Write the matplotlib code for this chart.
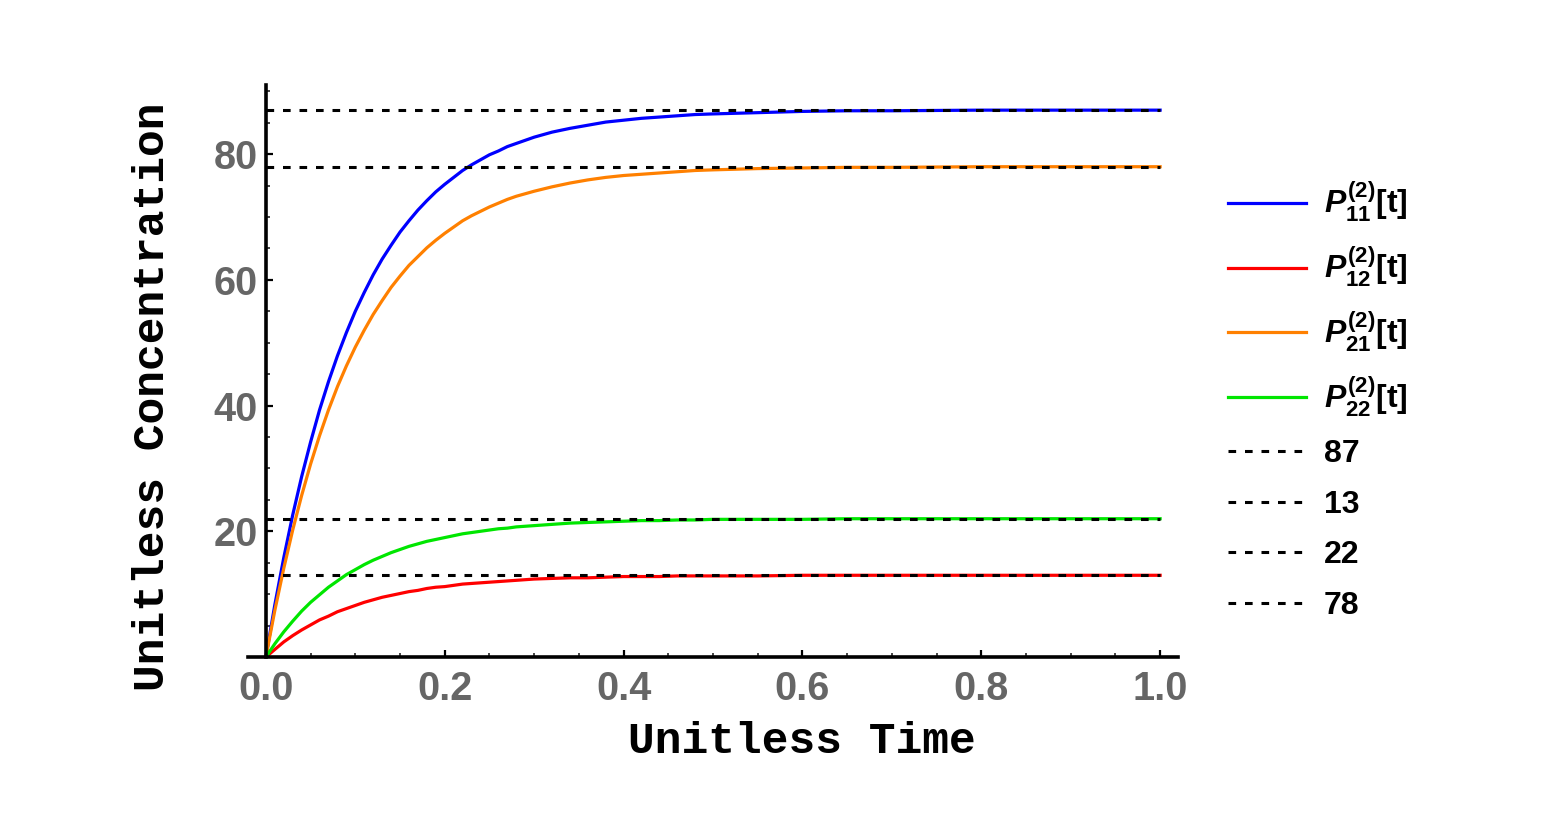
import matplotlib
matplotlib.use("Agg")
import matplotlib.pyplot as plt
from matplotlib.lines import Line2D
from matplotlib.ticker import MultipleLocator

plt.rcParams['mathtext.fontset'] = 'custom'
plt.rcParams['mathtext.rm'] = 'Liberation Sans:bold'
plt.rcParams['mathtext.it'] = 'Liberation Sans:italic:bold'
plt.rcParams['mathtext.bf'] = 'Liberation Sans:bold'

# ---- data ----
t = [0.00, 0.01, 0.02, 0.03, 0.04, 0.05, 0.06, 0.07, 0.08, 0.09, 0.10,
     0.11, 0.12, 0.13, 0.14, 0.15, 0.16, 0.17, 0.18, 0.19, 0.20,
     0.21, 0.22, 0.23, 0.24, 0.25, 0.26, 0.27, 0.28, 0.29, 0.30,
     0.32, 0.34, 0.36, 0.38, 0.40, 0.42, 0.44, 0.46, 0.48, 0.50,
     0.55, 0.60, 0.65, 0.70, 0.80, 0.90, 1.00]
p11 = [0.0, 8.3, 15.8, 22.6, 28.7, 34.2, 39.3, 43.8, 47.9, 51.6, 55.0,
       58.0, 60.8, 63.3, 65.5, 67.6, 69.4, 71.1, 72.6, 74.0, 75.2,
       76.3, 77.4, 78.3, 79.1, 79.9, 80.5, 81.2, 81.7, 82.2, 82.7,
       83.5, 84.1, 84.6, 85.1, 85.4, 85.7, 85.9, 86.1, 86.3, 86.4,
       86.6, 86.8, 86.9, 86.9, 87.0, 87.0, 87.0]
p12 = [0.0, 1.2, 2.4, 3.4, 4.3, 5.1, 5.9, 6.5, 7.2, 7.7, 8.2,
       8.7, 9.1, 9.5, 9.8, 10.1, 10.4, 10.6, 10.9, 11.1, 11.2,
       11.4, 11.6, 11.7, 11.8, 11.9, 12.0, 12.1, 12.2, 12.3, 12.4,
       12.5, 12.6, 12.6, 12.7, 12.8, 12.8, 12.8, 12.9, 12.9, 12.9,
       12.9, 13.0, 13.0, 13.0, 13.0, 13.0, 13.0]
p21 = [0.0, 7.4, 14.1, 20.2, 25.7, 30.7, 35.2, 39.3, 43.0, 46.3, 49.3,
       52.0, 54.5, 56.7, 58.8, 60.6, 62.3, 63.7, 65.1, 66.3, 67.4,
       68.4, 69.4, 70.2, 70.9, 71.6, 72.2, 72.8, 73.3, 73.7, 74.1,
       74.8, 75.4, 75.9, 76.3, 76.6, 76.8, 77.0, 77.2, 77.4, 77.5,
       77.7, 77.8, 77.9, 77.9, 78.0, 78.0, 78.0]
p22 = [0.0, 2.1, 4.0, 5.7, 7.3, 8.7, 9.9, 11.1, 12.1, 13.1, 13.9,
       14.7, 15.4, 16.0, 16.6, 17.1, 17.6, 18.0, 18.4, 18.7, 19.0,
       19.3, 19.6, 19.8, 20.0, 20.2, 20.4, 20.5, 20.7, 20.8, 20.9,
       21.1, 21.3, 21.4, 21.5, 21.6, 21.7, 21.7, 21.8, 21.8, 21.9,
       21.9, 21.9, 22.0, 22.0, 22.0, 22.0, 22.0]
levels = [87, 13, 22, 78]
series_labels = [r'$P_{11}^{(2)}$[t]', r'$P_{12}^{(2)}$[t]',
                 r'$P_{21}^{(2)}$[t]', r'$P_{22}^{(2)}$[t]']
series_colors = ['#0000ff', '#ff0000', '#ff8000', '#00e600']
x_ticks = [0.0, 0.2, 0.4, 0.6, 0.8, 1.0]
y_ticks = [20, 40, 60, 80]

fig = plt.figure(figsize=(15.5, 8.22), dpi=100)
ax = fig.add_axes([248/1550, 1-657/822, 930/1550, 572/822])

lw = 2.3
for y, c in zip([p11, p12, p21, p22], series_colors):
    ax.plot(t, y, color=c, lw=lw, solid_joinstyle='round', zorder=2)
for lv in levels:
    ax.plot([0, 1], [lv, lv], color='black', lw=2.2, dashes=(2.5, 2.9), zorder=3)

ax.set_xlim(-0.02, 1.02)
ax.set_ylim(0, 91)
for s in ['top', 'right']:
    ax.spines[s].set_visible(False)
ax.spines['left'].set_position(('data', 0))
for s in ['left', 'bottom']:
    ax.spines[s].set_linewidth(2.6)

ax.set_xticks(x_ticks)
ax.set_xticklabels([f'{v:.1f}' for v in x_ticks])
ax.set_yticks(y_ticks)
ax.set_yticklabels([str(v) for v in y_ticks])
ax.xaxis.set_minor_locator(MultipleLocator(0.05))
ax.yaxis.set_minor_locator(MultipleLocator(5))
ax.tick_params(which='major', direction='in', length=5, width=1.6, color='black')
ax.tick_params(which='minor', direction='in', length=3, width=1.4, color='#444444')
ax.tick_params(axis='x', which='major', pad=9)
ax.tick_params(axis='y', which='major', pad=6)
for lab in ax.get_xticklabels() + ax.get_yticklabels():
    lab.set_fontfamily('Liberation Sans')
    lab.set_fontweight('bold')
    lab.set_fontsize(28.5)
    lab.set_color('#666666')

ax.set_xlabel('Unitless Time', family='Liberation Mono', weight='bold',
              fontsize=32, va='center', ha='center')
ax.xaxis.set_label_coords(0.596, -0.1486)
ax.set_ylabel('Unitless Concentration', family='Liberation Mono', weight='bold',
              fontsize=32, va='center', ha='center')
ax.yaxis.set_label_coords(-0.1032, 0.4545)

handles = [Line2D([], [], color=c, lw=2.3) for c in series_colors]
handles += [Line2D([], [], color='black', lw=2.2, dashes=(2.5, 2.9)) for _ in levels]
labels = series_labels + [str(v) for v in levels]
leg = fig.legend(handles, labels, loc='upper left',
                 bbox_to_anchor=(1228/1550, 1-180/822),
                 frameon=False, borderpad=0, borderaxespad=0,
                 handlelength=2.45, handletextpad=0.55, labelspacing=0.64,
                 prop={'family': 'Liberation Sans', 'weight': 'bold', 'size': 23})

fig.savefig('out.png', dpi=100)
